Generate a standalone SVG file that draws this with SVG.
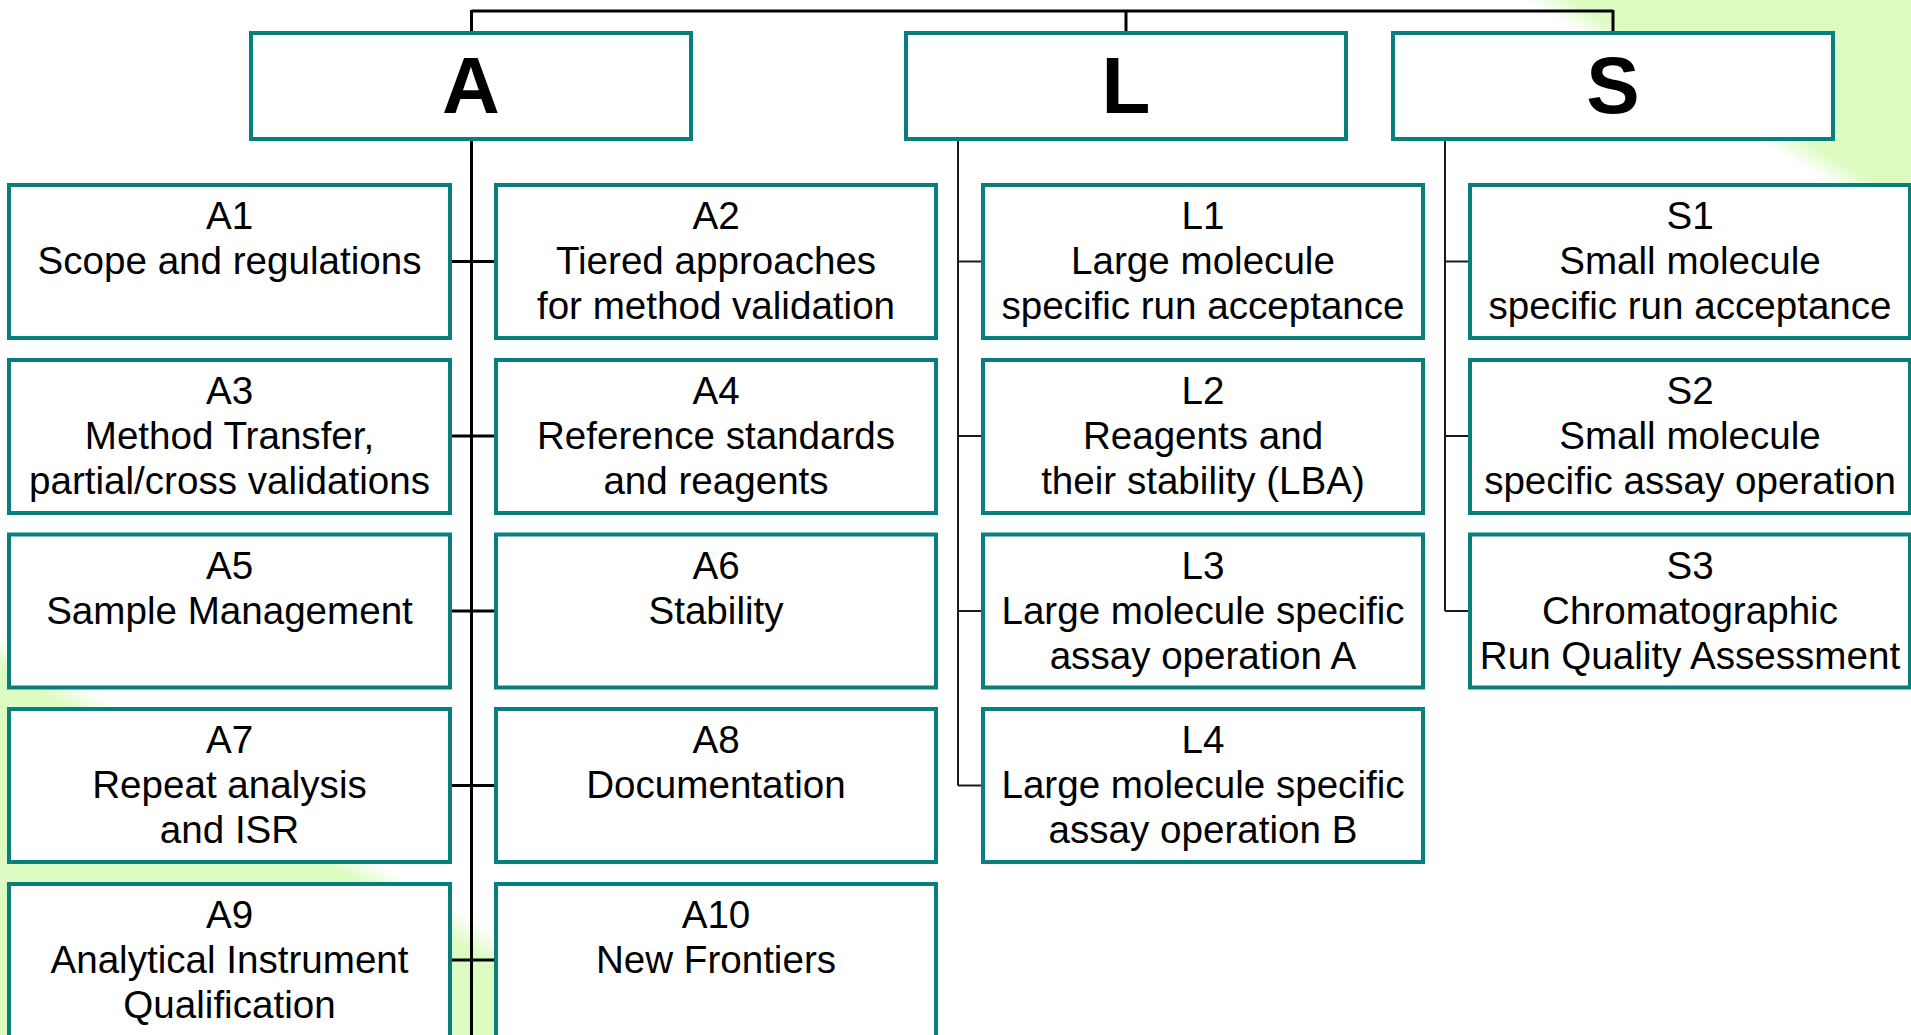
<svg xmlns="http://www.w3.org/2000/svg" width="1911" height="1035" viewBox="0 0 1911 1035">
<defs>
<linearGradient id="bg" gradientUnits="userSpaceOnUse" x1="0" y1="668" x2="710.8" y2="-516.7">
<stop offset="0" stop-color="#dcfcc2"/>
<stop offset="0.02" stop-color="#ffffff"/>
<stop offset="0.982" stop-color="#ffffff"/>
<stop offset="1" stop-color="#dcfcc2"/>
</linearGradient>
<style>
.box{fill:#ffffff;stroke:#077f7f;stroke-width:4;}
.t{font-family:"Liberation Sans",Arial,sans-serif;font-size:38.6px;fill:#000;text-anchor:middle;}
.h{font-family:"Liberation Sans",Arial,sans-serif;font-size:80px;font-weight:bold;fill:#000;text-anchor:middle;}
.c{fill:none;stroke:#000;stroke-width:3;}
.c2{fill:none;stroke:#1a1a1a;stroke-width:2;}
</style>
</defs>
<rect x="0" y="0" width="1911" height="1035" fill="url(#bg)"/>

<g id="connectors">
<path class="c" d="M471.5 11H1613M471.5 10V31M1126 10V31M1613 10V31"/>
<path class="c" d="M471.5 141V1035M452 261.5H494M452 436H494M452 611H494M452 785.5H494M452 960H494"/>
<path class="c2" d="M958 141V785.5M958 261.5H981M958 436H981M958 611H981M958 785.5H981"/>
<path class="c2" d="M1445 141V611M1445 261.5H1468M1445 436H1468M1445 611H1468"/>
</g>

<g id="A"><rect class="box" x="251" y="33" width="440" height="106"/><text class="h" x="471" y="113">A</text></g>
<g id="L"><rect class="box" x="906" y="33" width="440" height="106"/><text class="h" x="1126" y="113">L</text></g>
<g id="S"><rect class="box" x="1393" y="33" width="440" height="106"/><text class="h" x="1613" y="113">S</text></g>

<g id="A1"><rect class="box" x="9" y="185" width="441" height="153"/><text class="t" x="229.5" y="229">A1</text><text class="t" x="229.5" y="274">Scope and regulations</text></g>
<g id="A2"><rect class="box" x="496" y="185" width="440" height="153"/><text class="t" x="716" y="229">A2</text><text class="t" x="716" y="274">Tiered approaches</text><text class="t" x="716" y="319">for method validation</text></g>
<g id="L1"><rect class="box" x="983" y="185" width="440" height="153"/><text class="t" x="1203" y="229">L1</text><text class="t" x="1203" y="274">Large molecule</text><text class="t" x="1203" y="319">specific run acceptance</text></g>
<g id="S1"><rect class="box" x="1470" y="185" width="440" height="153"/><text class="t" x="1690" y="229">S1</text><text class="t" x="1690" y="274">Small molecule</text><text class="t" x="1690" y="319">specific run acceptance</text></g>

<g id="A3"><rect class="box" x="9" y="360" width="441" height="153"/><text class="t" x="229.5" y="404">A3</text><text class="t" x="229.5" y="449">Method Transfer,</text><text class="t" x="229.5" y="494">partial/cross validations</text></g>
<g id="A4"><rect class="box" x="496" y="360" width="440" height="153"/><text class="t" x="716" y="404">A4</text><text class="t" x="716" y="449">Reference standards</text><text class="t" x="716" y="494">and reagents</text></g>
<g id="L2"><rect class="box" x="983" y="360" width="440" height="153"/><text class="t" x="1203" y="404">L2</text><text class="t" x="1203" y="449">Reagents and</text><text class="t" x="1203" y="494">their stability (LBA)</text></g>
<g id="S2"><rect class="box" x="1470" y="360" width="440" height="153"/><text class="t" x="1690" y="404">S2</text><text class="t" x="1690" y="449">Small molecule</text><text class="t" x="1690" y="494">specific assay operation</text></g>

<g id="A5"><rect class="box" x="9" y="534.5" width="441" height="153"/><text class="t" x="229.5" y="579">A5</text><text class="t" x="229.5" y="624">Sample Management</text></g>
<g id="A6"><rect class="box" x="496" y="534.5" width="440" height="153"/><text class="t" x="716" y="579">A6</text><text class="t" x="716" y="624">Stability</text></g>
<g id="L3"><rect class="box" x="983" y="534.5" width="440" height="153"/><text class="t" x="1203" y="579">L3</text><text class="t" x="1203" y="624">Large molecule specific</text><text class="t" x="1203" y="669">assay operation A</text></g>
<g id="S3"><rect class="box" x="1470" y="534.5" width="440" height="153"/><text class="t" x="1690" y="579">S3</text><text class="t" x="1690" y="624">Chromatographic</text><text class="t" x="1690" y="669">Run Quality Assessment</text></g>

<g id="A7"><rect class="box" x="9" y="709" width="441" height="153"/><text class="t" x="229.5" y="753">A7</text><text class="t" x="229.5" y="798">Repeat analysis</text><text class="t" x="229.5" y="843">and ISR</text></g>
<g id="A8"><rect class="box" x="496" y="709" width="440" height="153"/><text class="t" x="716" y="753">A8</text><text class="t" x="716" y="798">Documentation</text></g>
<g id="L4"><rect class="box" x="983" y="709" width="440" height="153"/><text class="t" x="1203" y="753">L4</text><text class="t" x="1203" y="798">Large molecule specific</text><text class="t" x="1203" y="843">assay operation B</text></g>

<g id="A9"><rect class="box" x="9" y="884" width="441" height="153"/><text class="t" x="229.5" y="928">A9</text><text class="t" x="229.5" y="973">Analytical Instrument</text><text class="t" x="229.5" y="1018">Qualification</text></g>
<g id="A10"><rect class="box" x="496" y="884" width="440" height="153"/><text class="t" x="716" y="928">A10</text><text class="t" x="716" y="973">New Frontiers</text></g>
</svg>
